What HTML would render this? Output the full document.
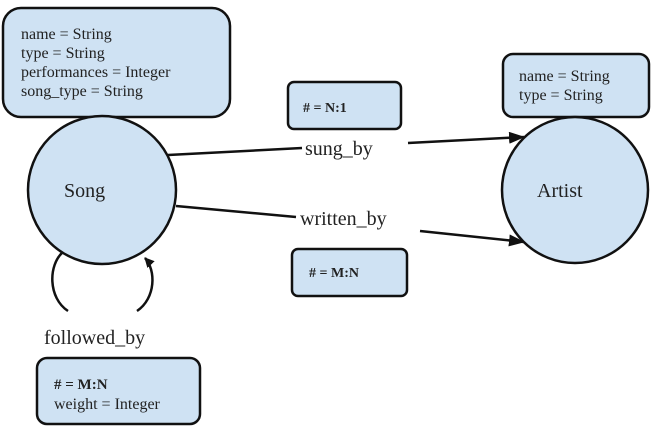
<!DOCTYPE html>
<html><head><meta charset="utf-8"><style>
html,body{margin:0;padding:0;background:#fff}
svg{display:block}
</style></head><body>
<svg width="655" height="428" viewBox="0 0 655 428" xmlns="http://www.w3.org/2000/svg" font-family="'Liberation Serif', 'DejaVu Serif', serif">
<defs><marker id="a" markerWidth="16" markerHeight="12" refX="15" refY="6" orient="auto" markerUnits="userSpaceOnUse"><path d="M0,0 L16,6 L0,12 z" fill="#111"/></marker>
<marker id="b" markerWidth="10" markerHeight="10" refX="9" refY="5" orient="auto" markerUnits="userSpaceOnUse"><path d="M0,0 L10,5 L0,10 z" fill="#111"/></marker></defs>
<g fill="#cfe2f3" stroke="#111" stroke-width="2.5">
<rect x="3" y="8" width="227" height="109" rx="18"/>
<circle cx="102" cy="190" r="74"/>
<rect x="503" y="54" width="146" height="63" rx="10"/>
<circle cx="575" cy="190" r="73"/>
<rect x="288" y="82" width="113" height="47" rx="6"/>
<rect x="292" y="249" width="115" height="47" rx="6"/>
<rect x="37" y="358" width="163" height="66" rx="10"/>
</g>
<g stroke="#111" stroke-width="2.5" fill="none">
<line x1="168" y1="155" x2="302" y2="148"/>
<line x1="408" y1="143" x2="524" y2="137" marker-end="url(#a)"/>
<line x1="176" y1="206" x2="296" y2="217"/>
<line x1="420" y1="231" x2="524" y2="242" marker-end="url(#a)"/>
<path d="M63,252 C48,265 48,298 68,311"/>
<path d="M137,311 C156,298 156,270 145,258" marker-end="url(#b)"/>
</g>
<g font-size="16" fill="#222">
<text x="21" y="39">name = String</text>
<text x="21" y="58">type = String</text>
<text x="21" y="77">performances  = Integer</text>
<text x="21" y="96">song_type = String</text>
<text x="519" y="81">name = String</text>
<text x="519" y="100">type = String</text>
<text x="54" y="389" font-weight="bold" font-size="15">#  = M:N</text>
<text x="54" y="409">weight = Integer</text>
</g>
<g fill="#222">
<text x="303" y="112" font-size="14" font-weight="bold"># = N:1</text>
<text x="309" y="277" font-size="14" font-weight="bold"># = M:N</text>
<text x="64" y="197" font-size="20">Song</text>
<text x="537" y="197" font-size="20">Artist</text>
<text x="305" y="155" font-size="20">sung_by</text>
<text x="300" y="225" font-size="20">written_by</text>
<text x="44" y="344" font-size="20">followed_by</text>
</g>
</svg>
</body></html>
